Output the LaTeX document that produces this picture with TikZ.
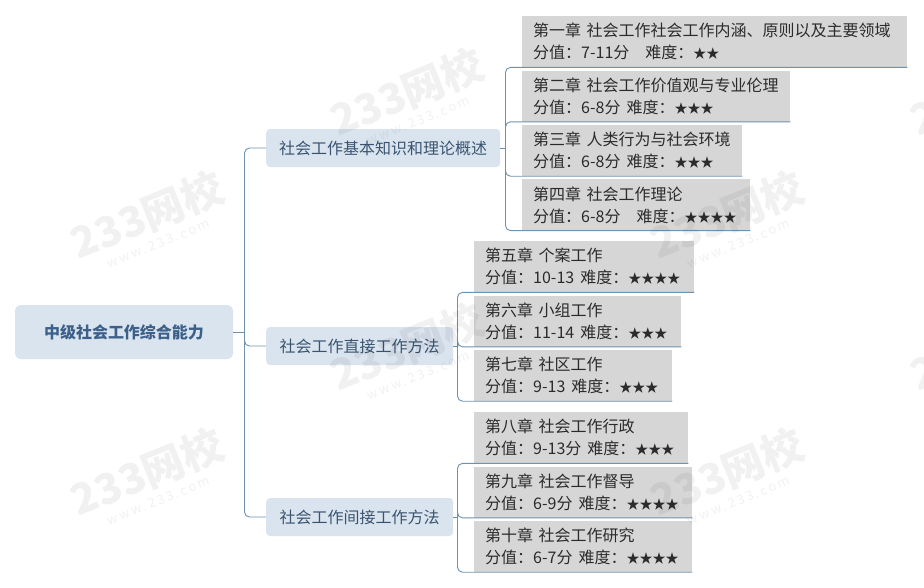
\documentclass[tikz,border=0pt]{standalone}
\usepackage{fontspec}
\setmainfont{Noto Sans CJK SC}
\usetikzlibrary{positioning}
\definecolor{linkblue}{HTML}{6F93AE}
\definecolor{topicfill}{HTML}{DAE4EF}
\definecolor{topictext}{HTML}{3A5470}
\definecolor{roottext}{HTML}{3D608A}
\definecolor{chapterfill}{HTML}{D6D6D6}
\definecolor{chaptertext}{HTML}{2B2B2B}
\newcommand{\starmark}[1]{{\fontsize{13}{22}\selectfont #1}}
\newcommand{\scoregap}{\hspace{6pt}}

\begin{document}
\begin{tikzpicture}[
x=1pt, y=-1pt,
rootbox/.style={rectangle, rounded corners=6pt, fill=topicfill, text=roottext, font=\fontsize{16}{20}\selectfont\bfseries, minimum width=218pt, minimum height=54pt, inner sep=0pt},
topicbox/.style={rectangle, rounded corners=4pt, fill=topicfill, text=topictext, font=\fontsize{16}{20}\selectfont, minimum height=38pt, inner sep=0pt, anchor=west},
chapterbox/.style={rectangle, fill=chapterfill, text=chaptertext, font=\fontsize{16}{22}\selectfont, align=left, text width=#1-22pt, minimum height=51pt, inner xsep=11pt, inner ysep=0pt},
branch/.style={draw=linkblue, line width=0.9pt, rounded corners=5pt},
watermark/.style={text=black, opacity=0.055, rotate=22, align=center, inner sep=0pt},
]
\useasboundingbox (0,0) rectangle (924,587);
\fill[white] (0,0) rectangle (924,587);

%Nodes
\node[rootbox]                       (root)   at (124,332)  {中级社会工作综合能力};
\node[topicbox, minimum width=234pt] (basics) at (266,148)  {社会工作基本知识和理论概述};
\node[topicbox, minimum width=187pt] (direct) at (266,346)  {社会工作直接工作方法};
\node[topicbox, minimum width=187pt] (indirect) at (266,517) {社会工作间接工作方法};

\node[chapterbox=385pt, anchor=north west] (ch1) at (522,16) {第一章 社会工作社会工作内涵、原则以及主要领域\\分值：7-11分\ \ \ 难度：\starmark{★★}};
\node[chapterbox=268pt] (ch2) [below right=3pt and 0pt of ch1.south west] {第二章 社会工作价值观与专业伦理\\分值：6-8分\scoregap 难度：\starmark{★★★}};
\node[chapterbox=220pt] (ch3) [below right=3pt and 0pt of ch2.south west] {第三章 人类行为与社会环境\\分值：6-8分\scoregap 难度：\starmark{★★★}};
\node[chapterbox=228pt] (ch4) [below right=3pt and 0pt of ch3.south west] {第四章 社会工作理论\\分值：6-8分\ \ \ 难度：\starmark{★★★★}};

\node[chapterbox=220pt, anchor=north west] (ch5) at (474,241) {第五章 个案工作\\分值：10-13\scoregap 难度：\starmark{★★★★}};
\node[chapterbox=207pt] (ch6) [below right=3pt and 0pt of ch5.south west] {第六章 小组工作\\分值：11-14\scoregap 难度：\starmark{★★★}};
\node[chapterbox=198pt] (ch7) [below right=3pt and 0pt of ch6.south west] {第七章 社区工作\\分值：9-13\scoregap 难度：\starmark{★★★}};

\node[chapterbox=214pt, anchor=north west] (ch8) at (474,412) {第八章 社会工作行政\\分值：9-13分\scoregap 难度：\starmark{★★★}};
\node[chapterbox=218pt] (ch9) [below right=3pt and 0pt of ch8.south west] {第九章 社会工作督导\\分值：6-9分\scoregap 难度：\starmark{★★★★}};
\node[chapterbox=218pt] (ch10) [below right=3pt and 0pt of ch9.south west] {第十章 社会工作研究\\分值：6-7分\scoregap 难度：\starmark{★★★★}};

%Lines
\coordinate (trunk) at (244.5,332);
\coordinate (busa)  at (505.5,148);
\coordinate (busb)  at (457.5,346);
\coordinate (busc)  at (457.5,517);

\draw[branch] (root.east) -- (trunk);
\foreach \topic in {basics,direct,indirect}
  \draw[branch] (trunk) |- (\topic.west);

\draw[branch] (basics.east) -- (busa);
\draw[branch] (direct.east) -- (busb);
\draw[branch] (indirect.east) -- (busc);
\foreach \chap in {ch1,ch2,ch3,ch4}
  \draw[branch] (busa) |- (\chap.south east);
\foreach \chap in {ch5,ch6,ch7}
  \draw[branch] (busb) |- (\chap.south east);
\foreach \chap in {ch8,ch9,ch10}
  \draw[branch] (busc) |- (\chap.south east);

%Watermarks
\begin{scope}
\clip (0,0) rectangle (924,587);
\foreach \wx/\wy [count=\w] in {150/222,410/99,730/222,410/354,150/479,730/479,990/99,990/354}
  \node[watermark] (mark\w) at (\wx,\wy) {{\fontsize{42}{42}\selectfont\bfseries 233网校}\\[5pt]{\fontsize{13}{15}\selectfont\addfontfeature{LetterSpace=18}www.233.com}};
\end{scope}
\end{tikzpicture}
\end{document}
